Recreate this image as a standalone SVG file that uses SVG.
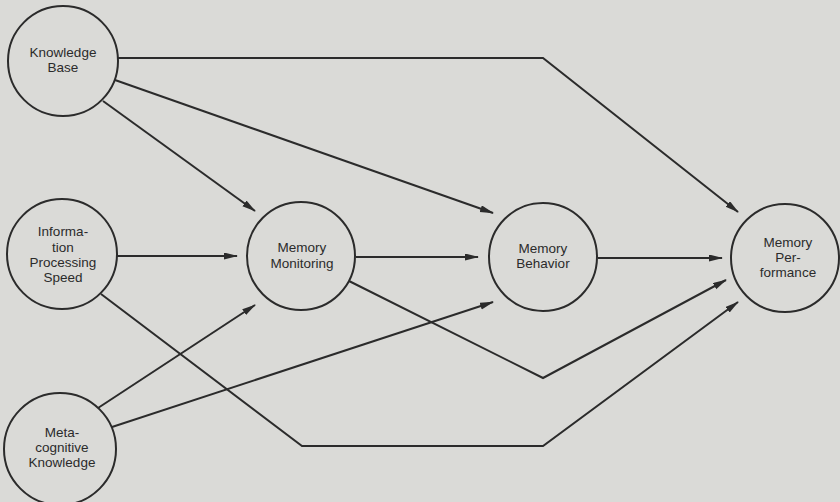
<svg xmlns="http://www.w3.org/2000/svg" width="840" height="502" viewBox="0 0 840 502">
<defs>
<style>
.node circle{fill:none;stroke:#2b2b2b;stroke-width:2}
.node text{font-family:"Liberation Sans",Arial,sans-serif;font-size:13.5px;fill:#2b2b2b;text-anchor:middle}
#connectors polyline{fill:none;stroke:#2b2b2b;stroke-width:2;marker-end:url(#arr)}
</style>
<marker id="arr" markerUnits="userSpaceOnUse" markerWidth="14" markerHeight="8" refX="13" refY="3.5" orient="auto">
<path d="M0,0 L14,3.5 L0,7 z" fill="#2b2b2b"/>
</marker>
</defs>
<rect width="840" height="502" fill="#dadad7"/>
<g id="connectors">
<polyline points="118,58 543,58 738,212"/>
<polyline points="115,80 493,213"/>
<polyline points="103,101 255,211"/>
<polyline points="117,256 237,256"/>
<polyline points="98,408 255,305"/>
<polyline points="112,427 493,302"/>
<polyline points="101,294 302,446 543,446 738,302"/>
<polyline points="356,257 478,257"/>
<polyline points="349,281 543,378 726,280"/>
<polyline points="598,258 722,258"/>
</g>
<g id="knowledge-base" class="node">
<circle cx="63" cy="61" r="55"/>
<text x="63" y="57">Knowledge</text>
<text x="63" y="72">Base</text>
</g>
<g id="information-processing-speed" class="node">
<circle cx="62" cy="254" r="55"/>
<text x="63" y="236">Informa-</text>
<text x="63" y="252">tion</text>
<text x="63" y="267">Processing</text>
<text x="63" y="282">Speed</text>
</g>
<g id="metacognitive-knowledge" class="node">
<circle cx="60" cy="449" r="56"/>
<text x="62" y="437">Meta-</text>
<text x="62" y="452">cognitive</text>
<text x="62" y="467">Knowledge</text>
</g>
<g id="memory-monitoring" class="node">
<circle cx="301" cy="256" r="54"/>
<text x="302" y="252">Memory</text>
<text x="302" y="268">Monitoring</text>
</g>
<g id="memory-behavior" class="node">
<circle cx="543" cy="257" r="54"/>
<text x="543" y="253">Memory</text>
<text x="543" y="268">Behavior</text>
</g>
<g id="memory-performance" class="node">
<circle cx="785" cy="258" r="54"/>
<text x="788" y="247">Memory</text>
<text x="788" y="262">Per-</text>
<text x="788" y="277">formance</text>
</g>
</svg>
